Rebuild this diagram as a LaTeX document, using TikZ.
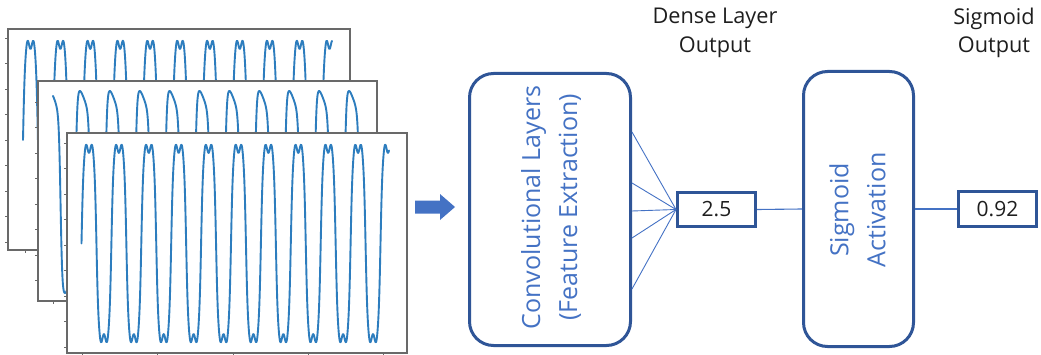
\documentclass[tikz,border=0pt]{standalone}
\usepackage{fontspec}
\setmainfont{Open Sans}
\definecolor{boxblue}{RGB}{47,85,151}
\definecolor{textblue}{RGB}{68,114,196}
\definecolor{waveblue}{RGB}{45,125,190}
\definecolor{axisgray}{RGB}{105,105,105}
\definecolor{valtext}{RGB}{30,30,30}
\tikzset{
  plotframe/.style={draw=axisgray, line width=1.3pt, fill=white, inner sep=0pt},
  tickline/.style={draw=axisgray, line width=0.8pt},
  waveline/.style={draw=waveblue, line width=1.9pt, line join=round, line cap=round},
  nnbox/.style={draw=boxblue, line width=3pt, rounded corners=24pt, fill=white, inner sep=0pt},
  boxtext/.style={text=textblue, rotate=90, align=center, inner sep=0pt,
    font=\fontsize{25}{37}\selectfont},
  valbox/.style={draw=boxblue, line width=3pt, fill=white, inner sep=0pt,
    text=valtext, font=\fontsize{21}{25}\selectfont},
  headtext/.style={text=valtext, align=center, inner sep=0pt,
    font=\fontsize{21.7}{28.5}\selectfont},
  fan/.style={draw=textblue, line width=0.9pt},
  link/.style={draw=textblue, line width=1.1pt},
}
% phase (degrees) of a sample at x for a wave of period 29.9 starting at x0
\pgfmathdeclarefunction{wph}{2}{\pgfmathparse{mod(#1-#2,29.9)/29.9*360}}
\begin{document}
\begin{tikzpicture}[x=1pt, y=1pt]
\useasboundingbox (0,0) rectangle (1041,354);

% ---- stacked signal plots ----
% back plot
\node[plotframe, minimum width=342pt, minimum height=221pt] (p1) at (179,214.5) {};
\foreach \k in {0,...,8} \draw[tickline] (8,{316-25.5*\k}) -- ++(-3,0);
\draw[tickline] (25,104) -- ++(0,-3);
\draw[waveline] plot[domain=23:332, samples=1000]
  (\x, {214 + 97*(tanh(2.6*sin(wph(\x,23))) - 0.05*sin(5*wph(\x,23)))});

% middle plot
\node[plotframe, minimum width=339pt, minimum height=220pt] (p2) at (207.5,163) {};
\foreach \k in {0,...,7} \draw[tickline] (38,{252-25.5*\k}) -- ++(-3,0);
\draw[tickline] (53,53) -- ++(0,-3);
\draw[waveline] plot[domain=53:362, samples=1000]
  (\x, {162 + 97*(tanh(2.6*sin(wph(\x,45.6))) + 0.12*cos(wph(\x,45.6)))});

% front plot
\node[plotframe, minimum width=340pt, minimum height=220pt] (p3) at (237,111) {};
\foreach \k in {0,...,8} \draw[tickline] (67,{211-25.5*\k}) -- ++(-3,0);
\foreach \t in {82,157,233,308,383} \draw[tickline] (\t,1) -- ++(0,-3);
\draw[waveline] plot[domain=81.5:389, samples=1200]
  (\x, {110.5 + 96.5*(tanh(2.6*sin(wph(\x,81.5))) - 0.05*sin(5*wph(\x,81.5)))});

% ---- input arrow ----
\fill[textblue] (415,140.5) -- (440,140.5) -- (440,134) -- (455,147)
  -- (440,160) -- (440,153.5) -- (415,153.5) -- cycle;

% ---- network blocks ----
\node[nnbox, minimum width=161pt, minimum height=272pt] (conv) at (550,144.5) {};
\node[boxtext] (convtext) at (551,146.5) {Convolutional Layers\\(Feature Extraction)};

\node[valbox, minimum width=78pt, minimum height=34pt] (dense) at (716.5,144.5) {2.5};

\node[nnbox, minimum width=110pt, minimum height=275pt] (sig) at (858.5,145) {};
\node[boxtext] (sigtext) at (857.5,144) {Sigmoid\\Activation};

\node[valbox, minimum width=78pt, minimum height=35pt] (out) at (997.5,145) {0.92};

% fan of feature connections into the dense unit
\foreach \i/\yy in {1/222, 2/171, 3/143, 4/116, 5/65} {
  \coordinate (f\i) at (conv.east |- 0,\yy);
  \draw[fan] (f\i) -- (dense.west);
}
\draw[link] (dense.east) -- (sig.west);
\draw[link] (sig.east) -- (out.west);

% ---- column headings ----
\node[headtext] (denselbl) at (715,321) {Dense Layer\\Output};
\node[headtext] (siglbl) at (994,321) {Sigmoid\\Output};
\end{tikzpicture}
\end{document}
